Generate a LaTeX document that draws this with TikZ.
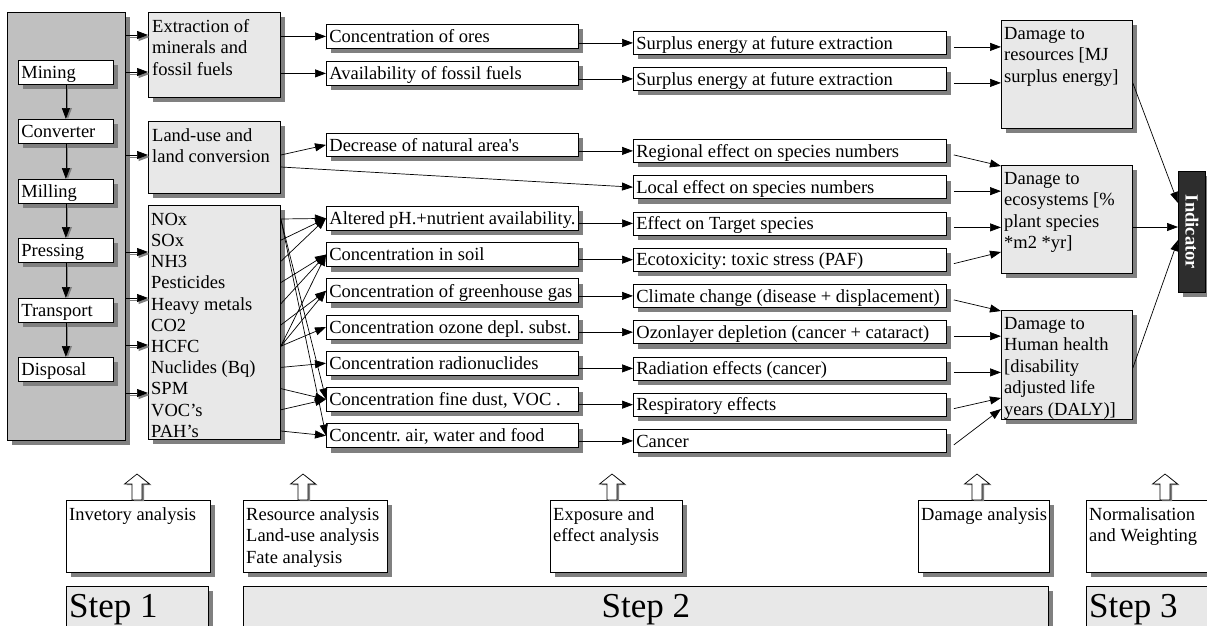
\documentclass[tikz,border=0pt]{standalone}
\usepackage{fontspec}
\setmainfont{Liberation Serif}
\usetikzlibrary{arrows.meta,shadows,calc}
\definecolor{shgray}{RGB}{128,128,128}
\definecolor{panelgray}{RGB}{192,192,192}
\definecolor{boxgray}{RGB}{232,232,232}
\definecolor{inddark}{RGB}{45,45,45}
% hollow upward arrow standing on a box top; #1 = foot centre
\newcommand\hollowup[1]{%
  \draw[fill=white, line width=0.7pt, drop shadow={shadow xshift=2pt,shadow yshift=-1pt,fill=shgray,opacity=1}]
    #1 ++(-5,0) -- ++(0,-16) -- ++(-7.5,0) -- ++(12.5,-10) -- ++(12.5,10) -- ++(-7.5,0) -- ++(0,16) -- cycle;}
\frenchspacing
\begin{document}
\begin{tikzpicture}[x=1pt,y=-1pt,
  every node/.style={font=\fontsize{18.5}{21.5}\selectfont, inner sep=0pt},
  shad/.style={drop shadow={shadow xshift=5pt,shadow yshift=-5pt,fill=shgray,opacity=1}},
  frame/.style={draw=black, line width=0.8pt, anchor=north west, shad},
  gpanel/.style={frame, fill=boxgray},
  wpanel/.style={frame, fill=white},
  % one-line label box, text flush left in a fixed width
  lbox/.style={wpanel, inner xsep=3pt, text height=12.5pt, text depth=0pt,
    execute at begin node={\hbox to #1\bgroup}, execute at end node={\hfil\egroup}},
  ptext/.style={anchor=north west, align=left},
  item/.style={anchor=west, text height=12.5pt, text depth=0pt},
  arr/.style={line width=0.7pt, -{Triangle[length=11pt,width=8pt]}},
  sarr/.style={arr, preaction={draw=shgray, line width=1pt, -{Triangle[length=11pt,width=8pt]}, transform canvas={shift={(1.5pt,-2pt)}}}},
  vsarr/.style={arr, preaction={draw=shgray, line width=1pt, -{Triangle[length=11pt,width=8pt]}, transform canvas={shift={(2pt,0pt)}}}},
  steptext/.style={font=\fontsize{35}{40}\selectfont, anchor=base west},
]
\useasboundingbox (0,0) rectangle (1207,625);
\fill[white] (0,0) rectangle (1207,625);
\clip (0,0) rectangle (1207,625);

% ---------- process chain ----------
\node[frame, fill=panelgray, minimum width=118pt, minimum height=428pt] (proc) at (7,12) {};
\node[lbox=89pt, minimum height=24pt] (mining) at (18,60) {Mining};
\node[lbox=89pt, minimum height=24pt] (conv) at (18,119) {Converter};
\node[lbox=89pt, minimum height=24pt] (mill) at (18,179) {Milling};
\node[lbox=89pt, minimum height=24pt] (press) at (18,238) {Pressing};
\node[lbox=89pt, minimum height=24pt] (trans) at (18,298) {Transport};
\node[lbox=89pt, minimum height=24pt] (disp) at (18,357) {Disposal};
\draw[vsarr] (mining.south) -- (conv.north);
\draw[vsarr] (conv.south) -- (mill.north);
\draw[vsarr] (mill.south) -- (press.north);
\draw[vsarr] (press.south) -- (trans.north);
\draw[vsarr] (trans.south) -- (disp.north);

% ---------- inventory ----------
\node[gpanel, minimum width=132pt, minimum height=85pt] (extr) at (148,12) {};
\node[ptext] (extr-t) at ([shift={(4,7)}]extr.north west) {Extraction of\\minerals and\\fossil fuels};
\node[gpanel, minimum width=132pt, minimum height=72pt] (land) at (148,121) {};
\node[ptext] (land-t) at ([shift={(4,7)}]land.north west) {Land-use and\\land conversion};
\node[gpanel, minimum width=132pt, minimum height=234pt] (emis) at (148,205) {};
\node[item] (nox) at (151,219) {NOx};
\node[item] (sox) at (151,240.2) {SOx};
\node[item] (nh3) at (151,261.4) {NH3};
\node[item] (pest) at (151,282.6) {Pesticides};
\node[item] (hm) at (151,303.8) {Heavy metals};
\node[item] (co2) at (151,325) {CO2};
\node[item] (hcfc) at (151,346.2) {HCFC};
\node[item] (nuc) at (151,367.4) {Nuclides (Bq)};
\node[item] (spm) at (151,388.6) {SPM};
\node[item] (voc) at (151,409.8) {VOC's};
\node[item] (pah) at (151,431) {PAH's};

\coordinate (ya) at (0,35);  \coordinate (yb) at (0,72);
\coordinate (yc) at (0,155); \coordinate (yd) at (0,252);
\coordinate (ye) at (0,298); \coordinate (yf) at (0,345);
\coordinate (yg) at (0,393); \coordinate (yh) at (0,167);
\draw[sarr] (proc.east |- ya) -- (extr.west |- ya);
\draw[sarr] (proc.east |- yb) -- (extr.west |- yb);
\draw[sarr] (proc.east |- yc) -- (land.west |- yc);
\draw[sarr] (proc.east |- yd) -- (emis.west |- yd);
\draw[sarr] (proc.east |- ye) -- (emis.west |- ye);
\draw[sarr] (proc.east |- yf) -- (emis.west |- yf);
\draw[sarr] (proc.east |- yg) -- (emis.west |- yg);

% ---------- fate ----------
\node[lbox=246pt, minimum height=24pt] (ores) at (326,24) {Concentration of ores};
\node[lbox=246pt, minimum height=24pt] (avail) at (326,61) {Availability of fossil fuels};
\node[lbox=246pt, minimum height=23pt] (decr) at (326,133) {Decrease of natural area\textquotesingle s};
\node[lbox=246pt, minimum height=24pt] (alt) at (326,206) {Altered pH.+nutrient availability.};
\node[lbox=246pt, minimum height=24pt] (soil) at (326,242.2) {Concentration in soil};
\node[lbox=246pt, minimum height=24pt] (gh) at (326,278.4) {Concentration of greenhouse gas};
\node[lbox=246pt, minimum height=24pt] (oz) at (326,314.6) {Concentration ozone depl. subst.};
\node[lbox=246pt, minimum height=24pt] (rad) at (326,350.8) {Concentration radionuclides};
\node[lbox=246pt, minimum height=24pt] (fine) at (326,387) {Concentration fine dust, VOC .};
\node[lbox=246pt, minimum height=24pt] (air) at (326,423.2) {Concentr. air, water and food};

\draw[arr] (extr.east |- ores) -- (ores.west);
\draw[arr] (extr.east |- avail) -- (avail.west);
\draw[arr] (land.east |- yc) -- (decr.west);

\draw[arr] (emis.east |- nox) -- (alt.west);
\draw[arr] (emis.east |- nox) -- (fine.west);
\draw[arr] (emis.east |- nox) -- (air.west);
\draw[arr] (emis.east |- sox) -- (alt.west);
\draw[arr] (emis.east |- nh3) -- (alt.west);
\draw[arr] (emis.east |- pest) -- (soil.west);
\draw[arr] (emis.east |- hm) -- (soil.west);
\draw[arr] (emis.east |- co2) -- (gh.west);
\draw[arr] (emis.east |- hcfc) -- (soil.west);
\draw[arr] (emis.east |- hcfc) -- (gh.west);
\draw[arr] (emis.east |- hcfc) -- (oz.west);
\draw[arr] (emis.east |- nuc) -- (rad.west);
\draw[arr] (emis.east |- spm) -- (fine.west);
\draw[arr] (emis.east |- voc) -- (fine.west);
\draw[arr] (emis.east |- pah) -- (air.west);

% ---------- effect ----------
\node[lbox=307pt, minimum height=23pt] (sur1) at (633,31) {Surplus energy at future extraction};
\node[lbox=307pt, minimum height=23pt] (sur2) at (633,67) {Surplus energy at future extraction};
\node[lbox=307pt, minimum height=23pt] (reg) at (633,139) {Regional effect on species numbers};
\node[lbox=307pt, minimum height=23pt] (loc) at (633,175.25) {Local effect on species numbers};
\node[lbox=307pt, minimum height=23pt] (tgt) at (633,211.5) {Effect on Target species};
\node[lbox=307pt, minimum height=23pt] (etox) at (633,247.75) {Ecotoxicity: toxic stress (PAF)};
\node[lbox=307pt, minimum height=23pt] (clim) at (633,284) {Climate change (disease + displacement)};
\node[lbox=307pt, minimum height=23pt] (ozl) at (633,320.25) {Ozonlayer depletion (cancer + cataract)};
\node[lbox=307pt, minimum height=23pt] (radf) at (633,356.5) {Radiation effects (cancer)};
\node[lbox=307pt, minimum height=23pt] (resp) at (633,392.75) {Respiratory effects};
\node[lbox=307pt, minimum height=23pt] (canc) at (633,429) {Cancer};

\draw[arr] (land.east |- yh) -- (loc.west);
\draw[arr] (ores.east |- sur1) -- (sur1.west);
\draw[arr] (avail.east |- sur2) -- (sur2.west);
\draw[arr] (decr.east |- reg) -- (reg.west);
\draw[arr] (alt.east |- tgt) -- (tgt.west);
\draw[arr] (soil.east |- etox) -- (etox.west);
\draw[arr] (gh.east |- clim) -- (clim.west);
\draw[arr] (oz.east |- ozl) -- (ozl.west);
\draw[arr] (rad.east |- radf) -- (radf.west);
\draw[arr] (fine.east |- resp) -- (resp.west);
\draw[arr] (air.east |- canc) -- (canc.west);

% ---------- damage ----------
\node[gpanel, minimum width=131pt, minimum height=108pt] (dres) at (1001,20) {};
\node[ptext] (dres-t) at ([shift={(3,7)}]dres.north west) {Damage to\\resources [MJ\\surplus energy]};
\node[gpanel, minimum width=131pt, minimum height=108pt] (deco) at (1001,165) {};
\node[ptext] (deco-t) at ([shift={(3,7)}]deco.north west) {Danage to\\ecosystems [\%\\plant species\\*m2 *yr]};
\node[gpanel, minimum width=131pt, minimum height=109pt] (dhh) at (1001,310) {};
\node[ptext] (dhh-t) at ([shift={(3,7)}]dhh.north west) {Damage to\\Human health\\{[}disability\\adjusted life\\years (DALY)]};

\foreach \b in {sur1,sur2,reg,loc,tgt,etox,clim,ozl,radf,resp,canc}
  \coordinate (\b-o) at ([shift={(7,4)}]\b.east);
\coordinate (t1) at (0,252); \coordinate (t2) at (0,398); \coordinate (t3) at (0,409);
\draw[arr] (sur1-o) -- (dres.west |- sur1-o);
\draw[arr] (sur2-o) -- (dres.west |- sur2-o);
\draw[arr] (reg-o) -- ([shift={(0,1)}]deco.north west);
\draw[arr] (loc-o) -- (deco.west |- loc-o);
\draw[arr] (tgt-o) -- (deco.west |- tgt-o);
\draw[arr] (etox-o) -- (deco.west |- t1);
\draw[arr] (clim-o) -- ([shift={(0,1)}]dhh.north west);
\draw[arr] (ozl-o) -- (dhh.west |- ozl-o);
\draw[arr] (radf-o) -- (dhh.west |- radf-o);
\draw[arr] (resp-o) -- (dhh.west |- t2);
\draw[arr] (canc-o) -- (dhh.west |- t3);

% ---------- indicator ----------
\node[frame, fill=inddark, minimum width=27pt, minimum height=121pt] (ind) at (1178,171) {};
\node[text=white, font=\fontsize{18.5}{21.5}\selectfont\bfseries] (ind-t) at (ind.center) {\rotatebox{-90}{Indicator}};
\coordinate (i1) at (0,83);  \coordinate (i2) at (0,203);
\coordinate (i3) at (0,227); \coordinate (i4) at (0,368); \coordinate (i5) at (0,240);
\draw[arr] (dres.east |- i1) -- (ind.west |- i2);
\draw[arr] (deco.east |- i3) -- (ind.west |- i3);
\draw[arr] (dhh.east |- i4) -- (ind.west |- i5);

% ---------- analysis stages ----------
\node[wpanel, minimum width=144pt, minimum height=72pt] (inv) at (66,500) {};
\node[ptext] (inv-t) at ([shift={(3,7)}]inv.north west) {Invetory analysis};
\node[wpanel, minimum width=144pt, minimum height=72pt] (resa) at (243,500) {};
\node[ptext] (resa-t) at ([shift={(3,7)}]resa.north west) {Resource analysis\\Land-use analysis\\Fate analysis};
\node[wpanel, minimum width=132pt, minimum height=72pt] (expo) at (550,500) {};
\node[ptext] (expo-t) at ([shift={(3,7)}]expo.north west) {Exposure and\\effect analysis};
\node[wpanel, minimum width=131pt, minimum height=72pt] (dama) at (918,500) {};
\node[ptext] (dama-t) at ([shift={(3,7)}]dama.north west) {Damage analysis};
\node[wpanel, minimum width=130pt, minimum height=72pt] (norm) at (1086,500) {};
\node[ptext] (norm-t) at ([shift={(3,7)}]norm.north west) {Normalisation\\and Weighting};

\hollowup{($(inv.north west)+(71,0)$)}
\hollowup{($(resa.north west)+(60,0)$)}
\hollowup{($(expo.north west)+(62,0)$)}
\hollowup{($(dama.north west)+(59,0)$)}
\hollowup{($(norm.north west)+(79,0)$)}

\node[gpanel, minimum width=142pt, minimum height=60pt] (st1) at (66,586) {};
\node[steptext] (st1-t) at ([shift={(3,31)}]st1.north west) {Step 1};
\node[gpanel, minimum width=805pt, minimum height=60pt] (st2) at (243,586) {};
\node[steptext, anchor=base] (st2-t) at ([shift={(0,31)}]st2.north) {Step 2};
\node[gpanel, minimum width=130pt, minimum height=60pt] (st3) at (1086,586) {};
\node[steptext] (st3-t) at ([shift={(3,31)}]st3.north west) {Step 3};
\end{tikzpicture}
\end{document}
